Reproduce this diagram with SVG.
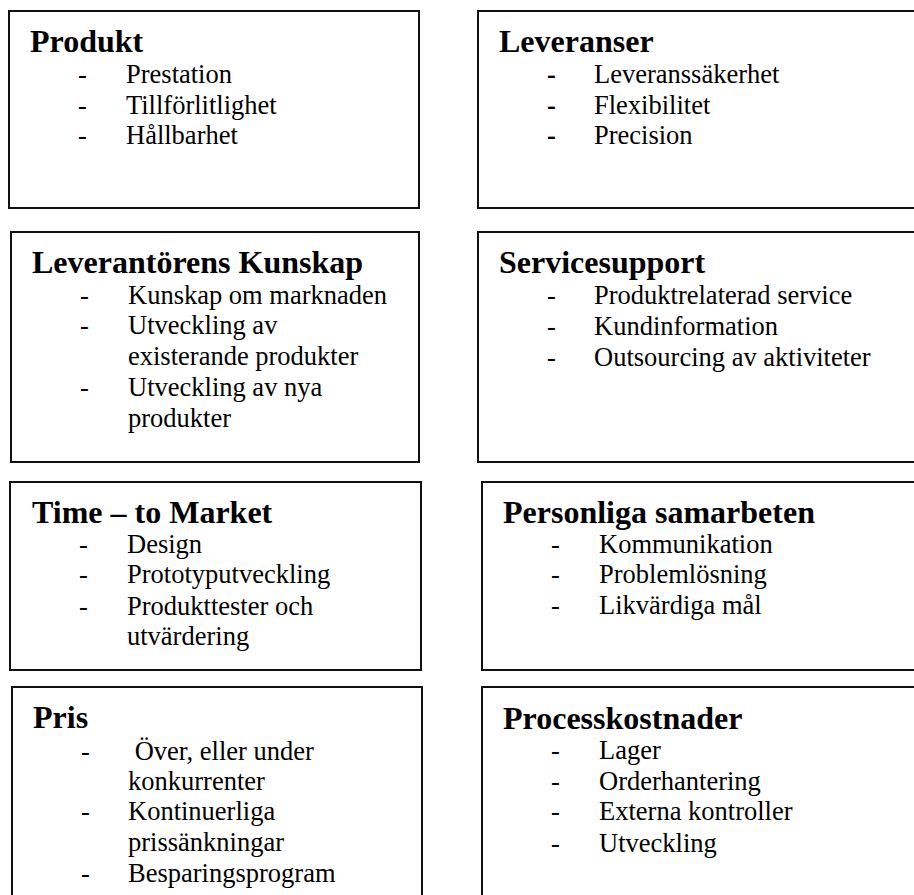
<svg xmlns="http://www.w3.org/2000/svg" width="914" height="895" viewBox="0 0 914 895">
<style>
rect.box{fill:#fff;stroke:#111;stroke-width:2}
text{font-family:"Liberation Serif","Times New Roman",serif;fill:#000}
.t{font-size:32px;font-weight:bold}
.i{font-size:26.5px}
.b{font-weight:bold}
</style>
<rect width="914" height="895" fill="#fff"/>
<g id="produkt">
<rect class="box" x="9" y="11" width="410" height="197"/>
<text class="t" x="30" y="52">Produkt</text>
<text class="i" x="78" y="83">-</text><text class="i" x="126" y="83">Prestation</text>
<text class="i" x="78" y="114">-</text><text class="i" x="126" y="114">Tillförlitlighet</text>
<text class="i" x="78" y="144">-</text><text class="i" x="126" y="144">Hållbarhet</text>
</g>
<g id="leveranser">
<rect class="box" x="478" y="11" width="450" height="197"/>
<text class="t" x="499" y="52">Leveranser</text>
<text class="i b" x="547" y="83">-</text><text class="i" x="594" y="83">Leveranssäkerhet</text>
<text class="i b" x="547" y="114">-</text><text class="i" x="594" y="114">Flexibilitet</text>
<text class="i b" x="547" y="144">-</text><text class="i" x="594" y="144">Precision</text>
</g>
<g id="kunskap">
<rect class="box" x="11" y="232" width="408" height="230"/>
<text class="t" x="32" y="273">Leverantörens Kunskap</text>
<text class="i" x="80" y="304">-</text><text class="i" x="128" y="304">Kunskap om marknaden</text>
<text class="i" x="80" y="334">-</text><text class="i" x="128" y="334">Utveckling av</text>
<text class="i" x="128" y="365">existerande produkter</text>
<text class="i" x="80" y="396">-</text><text class="i" x="128" y="396">Utveckling av nya</text>
<text class="i" x="128" y="427">produkter</text>
</g>
<g id="servicesupport">
<rect class="box" x="478" y="232" width="450" height="230"/>
<text class="t" x="499" y="273">Servicesupport</text>
<text class="i" x="547" y="304">-</text><text class="i" x="594" y="304">Produktrelaterad service</text>
<text class="i" x="547" y="335">-</text><text class="i" x="594" y="335">Kundinformation</text>
<text class="i" x="547" y="366">-</text><text class="i" x="594" y="366">Outsourcing av aktiviteter</text>
</g>
<g id="timetomarket">
<rect class="box" x="10" y="482" width="411" height="188"/>
<text class="t" x="32" y="523">Time – to Market</text>
<text class="i" x="79" y="553">-</text><text class="i" x="127" y="553">Design</text>
<text class="i" x="79" y="583">-</text><text class="i" x="127" y="583">Prototyputveckling</text>
<text class="i" x="79" y="615">-</text><text class="i" x="127" y="615">Produkttester och</text>
<text class="i" x="127" y="645">utvärdering</text>
</g>
<g id="samarbeten">
<rect class="box" x="482" y="482" width="450" height="188"/>
<text class="t" x="503" y="523">Personliga samarbeten</text>
<text class="i" x="551" y="553">-</text><text class="i" x="599" y="553">Kommunikation</text>
<text class="i" x="551" y="583">-</text><text class="i" x="599" y="583">Problemlösning</text>
<text class="i" x="551" y="614">-</text><text class="i" x="599" y="614">Likvärdiga mål</text>
</g>
<g id="pris">
<rect class="box" x="12" y="687" width="410" height="230"/>
<text class="t" x="33" y="728">Pris</text>
<text class="i" x="81" y="760">-</text><text class="i" x="128" y="760" xml:space="preserve"> Över, eller under</text>
<text class="i" x="128" y="790">konkurrenter</text>
<text class="i" x="81" y="820">-</text><text class="i" x="128" y="820">Kontinuerliga</text>
<text class="i" x="128" y="851">prissänkningar</text>
<text class="i" x="81" y="882">-</text><text class="i" x="128" y="882">Besparingsprogram</text>
</g>
<g id="processkostnader">
<rect class="box" x="482" y="687" width="450" height="230"/>
<text class="t" x="503" y="729">Processkostnader</text>
<text class="i" x="551" y="759">-</text><text class="i" x="599" y="759">Lager</text>
<text class="i" x="551" y="790">-</text><text class="i" x="599" y="790">Orderhantering</text>
<text class="i" x="551" y="820">-</text><text class="i" x="599" y="820">Externa kontroller</text>
<text class="i" x="551" y="852">-</text><text class="i" x="599" y="852">Utveckling</text>
</g>
<g id="connectors"></g>
</svg>
